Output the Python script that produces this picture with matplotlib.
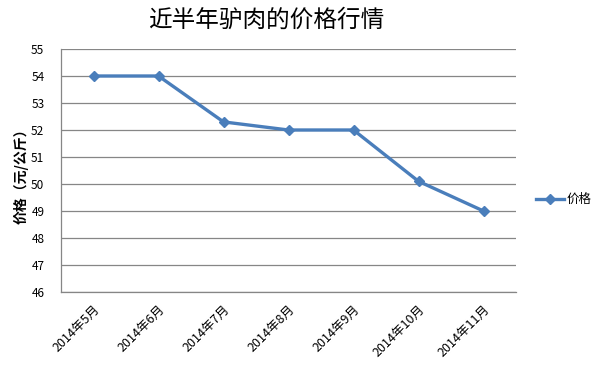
import matplotlib
matplotlib.use("Agg")
import matplotlib.pyplot as plt

plt.rcParams['font.family'] = ['Noto Sans CJK SC', 'DejaVu Sans']

# 数据
months = ['2014年5月', '2014年6月', '2014年7月', '2014年8月',
          '2014年9月', '2014年10月', '2014年11月']
prices = [54, 54, 52.3, 52, 52, 50.1, 49]
y_ticks = [46, 47, 48, 49, 50, 51, 52, 53, 54, 55]

line_color = '#4A7EBB'
grid_color = '#868686'

fig = plt.figure(figsize=(6, 3.65), dpi=100)
ax = fig.add_axes([61 / 600, 73 / 365, 455 / 600, 243 / 365])

x = list(range(len(months)))
ax.plot(x, prices, color=line_color, linewidth=2.4, marker='D',
        markersize=5, label='价格')

ax.set_xlim(-0.5, len(months) - 0.5)
ax.set_ylim(46, 55)
ax.set_yticks(y_ticks)
ax.set_yticklabels([str(v) for v in y_ticks], fontsize=8.5)
ax.set_xticks(x)
ax.set_xticklabels(months, rotation=45, ha='right', rotation_mode='anchor',
                   fontsize=9)
ax.tick_params(axis='y', length=0, pad=12)
ax.tick_params(axis='x', length=0, pad=8)

ax.grid(True, axis='y', color=grid_color, linewidth=0.9)
ax.set_axisbelow(True)
for side in ['top', 'right']:
    ax.spines[side].set_visible(False)
for side in ['left', 'bottom']:
    ax.spines[side].set_color(grid_color)
    ax.spines[side].set_linewidth(0.9)

ax.set_ylabel('价格（元/公斤）', fontsize=10, fontweight='bold')
ax.yaxis.set_label_coords(-0.072, 0.49)

fig.text(266 / 600, 1 - 20 / 365, '近半年驴肉的价格行情', fontsize=17,
         ha='center', va='center')

ax.legend(loc='center left', bbox_to_anchor=(1.02, 0.38), frameon=False,
          fontsize=9, handlelength=2.2, handletextpad=0.2)

fig.savefig('out.png', dpi=100)
